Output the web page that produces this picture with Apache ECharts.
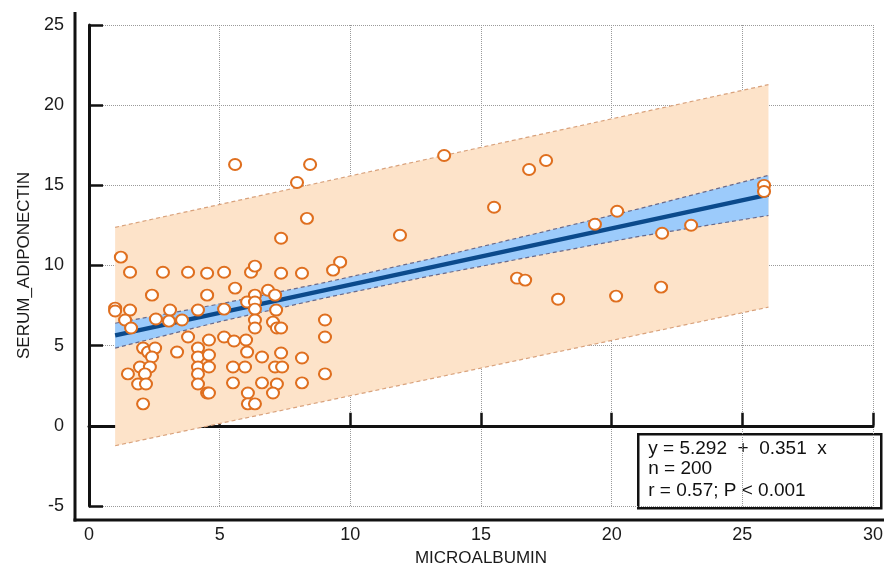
<!DOCTYPE html>
<html>
<head>
<meta charset="utf-8">
<title>SERUM_ADIPONECTIN vs MICROALBUMIN</title>
<script src="https://cdn.jsdelivr.net/npm/echarts@6/dist/echarts.min.js"></script>
<style>
	html, body { margin: 0; padding: 0; background: #fff; }
	#chart { width: 889px; height: 572px; }
</style>
</head>
<body>
<div id="chart"></div>
<script>
// scatter points (x = MICROALBUMIN, y = SERUM_ADIPONECTIN)
var microAlbumin = [
	13.59, 5.59, 8.46, 17.49, 16.84, 7.96, 8.34, 15.50, 25.83, 25.83,
	11.90, 7.35, 20.21, 19.36, 23.04, 21.93, 1.22, 9.61, 9.34, 1.57,
	2.83, 3.79, 4.52, 5.17, 6.20, 6.35, 7.35, 8.15, 16.38, 16.69,
	2.41, 4.52, 5.59, 6.35, 6.85, 7.12, 6.05, 6.35, 17.95, 20.17,
	21.89, 1.00, 1.00, 1.57, 3.10, 4.17, 5.17, 6.35, 7.16, 1.38,
	2.56, 3.06, 3.56, 1.61, 6.35, 6.35, 7.04, 7.19, 7.35, 9.03,
	9.03, 3.79, 4.59, 5.17, 5.55, 6.01, 2.07, 2.26, 2.53, 2.41,
	3.37, 4.17, 4.17, 6.05, 4.59, 6.62, 7.35, 8.15, 1.95, 2.33,
	4.17, 4.59, 5.51, 5.97, 7.12, 7.39, 1.49, 2.14, 4.17, 9.03,
	1.88, 2.18, 4.17, 5.51, 6.62, 7.19, 8.15, 4.52, 4.59, 6.08,
	7.04, 2.07, 6.08, 6.35
];
var serumAdiponectin = [
	16.86, 16.30, 16.30, 16.55, 15.99, 15.18, 12.94, 13.63, 15.00, 14.62,
	11.89, 11.70, 13.38, 12.57, 12.51, 12.01, 10.52, 10.21, 9.71, 9.58,
	9.58, 9.58, 9.52, 9.58, 9.58, 9.96, 9.52, 9.52, 9.21, 9.09,
	8.15, 8.15, 8.59, 8.15, 8.46, 8.15, 7.72, 7.72, 7.90, 8.09,
	8.65, 7.34, 7.16, 7.22, 7.22, 7.22, 7.28, 7.28, 7.22, 6.60,
	6.66, 6.53, 6.60, 6.10, 6.60, 6.10, 6.47, 6.10, 6.10, 6.60,
	5.54, 5.54, 5.35, 5.54, 5.29, 5.35, 4.85, 4.60, 4.85, 4.29,
	4.60, 4.85, 4.29, 4.60, 4.42, 4.29, 4.54, 4.23, 3.67, 3.67,
	3.67, 3.67, 3.67, 3.67, 3.67, 3.67, 3.24, 3.24, 3.24, 3.24,
	2.61, 2.61, 2.61, 2.68, 2.68, 2.61, 2.68, 2.05, 2.05, 2.05,
	2.05, 1.37, 1.37, 1.37
];

// regression line y = 5.292 + 0.351 x, drawn from x = 1 to 26
var fitX = [1, 26];
var fitY = [5.64, 14.42];

// 95% confidence band of the fit
var ciX = [1, 5, 9, 13, 17, 21, 26];
var ciLow = [4.85, 6.50, 7.97, 9.33, 10.57, 11.80, 13.12];
var ciHigh = [6.40, 7.60, 8.93, 10.39, 11.95, 13.52, 15.62];

// 95% prediction band
var piX = [1, 9, 17, 26];
var piLow = [-1.24, 1.53, 4.29, 7.40];
var piHigh = [12.38, 15.23, 18.08, 21.28];

// axis ticks
var xTicks = { min: 0, max: 30, step: 5 };
var yTicks = { min: -5, max: 25, step: 5 };

var statLines = [
	'y = 5.292  +  0.351  x',
	'n = 200',
	'r = 0.57; P < 0.001'
];

var FONT = '"Liberation Sans", Arial, sans-serif';

function bandRenderer(xs, lows, highs, fill, edge) {
	return function (params, api) {
		var top = [], bottom = [];
		for (var i = 0; i < xs.length; i++) {
			top.push(api.coord([xs[i], highs[i]]));
			bottom.push(api.coord([xs[i], lows[i]]));
		}
		var poly = top.concat(bottom.slice().reverse());
		var edgeStyle = { stroke: edge, lineWidth: 1.2, lineDash: [4, 3], fill: null };
		return {
			type: 'group',
			children: [
				{ type: 'polygon', shape: { points: poly }, style: { fill: fill, stroke: null } },
				{ type: 'polyline', shape: { points: top }, style: edgeStyle },
				{ type: 'polyline', shape: { points: bottom }, style: edgeStyle }
			]
		};
	};
}

var pts = [];
for (var i = 0; i < microAlbumin.length; i++) {
	pts.push([microAlbumin[i], serumAdiponectin[i]]);
}
var fitData = [];
for (var j = 0; j < fitX.length; j++) {
	fitData.push([fitX[j], fitY[j]]);
}

var myChart = echarts.init(document.getElementById('chart'), null, { renderer: 'canvas' });

var option = {
	animation: false,
	backgroundColor: '#fff',
	grid: { left: 89, right: 16, top: 25, bottom: 65 },
	xAxis: {
		type: 'value',
		min: xTicks.min,
		max: xTicks.max,
		interval: xTicks.step,
		offset: 13,
		name: 'MICROALBUMIN',
		nameLocation: 'middle',
		nameGap: 31,
		nameTextStyle: { fontFamily: FONT, fontSize: 17, color: '#1a1a1a' },
		axisLine: { show: true, lineStyle: { color: '#111', width: 3 } },
		axisTick: { show: true, inside: true, length: 13, lineStyle: { color: '#111', width: 2.5 } },
		axisLabel: { fontFamily: FONT, fontSize: 18, color: '#1a1a1a', margin: 7 },
		splitLine: { show: true, lineStyle: { color: '#9a9a9a', width: 1, type: 'dotted' } }
	},
	yAxis: {
		type: 'value',
		min: yTicks.min,
		max: yTicks.max,
		interval: yTicks.step,
		offset: 14,
		name: 'SERUM_ADIPONECTIN',
		nameLocation: 'middle',
		nameGap: 41,
		nameRotate: 90,
		nameTextStyle: { fontFamily: FONT, fontSize: 17, color: '#1a1a1a' },
		axisLine: { show: true, lineStyle: { color: '#111', width: 3 } },
		axisTick: { show: true, inside: true, length: 14, lineStyle: { color: '#111', width: 2.5 } },
		axisLabel: { fontFamily: FONT, fontSize: 18, color: '#1a1a1a', margin: 11 },
		splitLine: { show: true, lineStyle: { color: '#9a9a9a', width: 1, type: 'dotted' } }
	},
	series: [
		{
			name: 'prediction',
			type: 'custom',
			silent: true,
			z: 1,
			data: [[piX[0], piLow[0]]],
			renderItem: bandRenderer(piX, piLow, piHigh, '#fde3c9', '#d9a27c')
		},
		{
			name: 'confidence',
			type: 'custom',
			silent: true,
			z: 2,
			data: [[ciX[0], ciLow[0]]],
			renderItem: bandRenderer(ciX, ciLow, ciHigh, '#9ccbfb', '#6a6a8a')
		},
		{
			name: 'fit',
			type: 'line',
			z: 3,
			data: fitData,
			symbol: 'none',
			lineStyle: { color: '#0b4a8c', width: 4.5 }
		},
		{
			name: 'points',
			type: 'scatter',
			z: 4,
			data: pts,
			symbol: 'circle',
			symbolSize: [12, 11],
			itemStyle: { color: '#fff', borderColor: '#df6f1f', borderWidth: 2, opacity: 1 }
		}
	],
	graphic: [
		// axis line extensions past the plotting area
		{ type: 'line', z: 100, shape: { x1: 75, y1: 12, x2: 75, y2: 521.5 }, style: { stroke: '#111', lineWidth: 3 } },
		{ type: 'line', z: 100, shape: { x1: 73.5, y1: 520, x2: 884, y2: 520 }, style: { stroke: '#111', lineWidth: 3 } },
		{
			type: 'group',
			z: 100,
			left: 637,
			top: 433,
			children: [
				{ type: 'rect', shape: { x: 0, y: 0, width: 243, height: 74 }, style: { fill: '#fff', stroke: '#111', lineWidth: 2.5 } },
				{ type: 'text', x: 10, y: 5, style: { text: statLines[0], font: '19px ' + FONT, fill: '#111' } },
				{ type: 'text', x: 10, y: 25, style: { text: statLines[1], font: '19px ' + FONT, fill: '#111' } },
				{ type: 'text', x: 10, y: 47, style: { text: statLines[2], font: '19px ' + FONT, fill: '#111' } }
			]
		}
	]
};
myChart.setOption(option);
</script>
</body>
</html>
